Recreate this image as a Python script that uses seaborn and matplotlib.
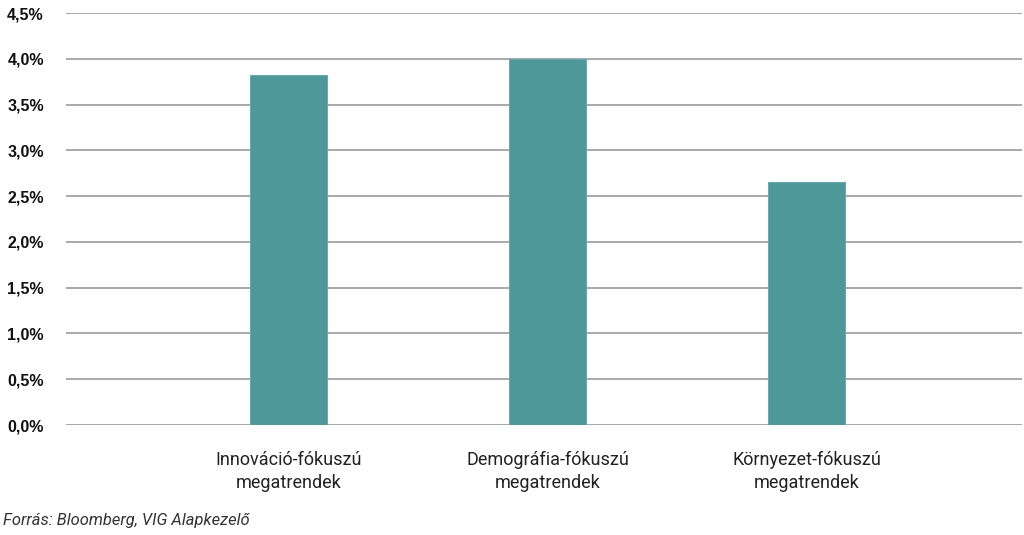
import matplotlib
matplotlib.use("Agg")
import matplotlib.pyplot as plt
import seaborn as sns
import pandas as pd
from matplotlib.ticker import FuncFormatter, MultipleLocator

categories = ["Innováció-fókuszú\nmegatrendek", "Demográfia-fókuszú\nmegatrendek", "Környezet-fókuszú\nmegatrendek"]
values = [3.82, 4.0, 2.65]
source_note = "Forrás: Bloomberg, VIG Alapkezelő"

sns.set_theme(style="white")
plt.rcParams['font.family'] = ['Roboto', 'DejaVu Sans']

df = pd.DataFrame({"cat": categories, "val": values})

fig = plt.figure(figsize=(10.24, 5.35), dpi=100)
ax = fig.add_axes([66/1024, 1-425/535, (1022-66)/1024, (425-13)/535])

ax.yaxis.grid(True, color="#a3a3a3", linewidth=1.3)
ax.set_axisbelow(True)
sns.barplot(data=df, x="cat", y="val", color="#4E9899", width=0.3, saturation=1, ax=ax,
            edgecolor="#6aa9a9", linewidth=0.8, zorder=3)

ax.set_ylim(0, 4.5)
ax.set_xlim(-0.859, 2.832)
ax.yaxis.set_major_locator(MultipleLocator(0.5))
ax.yaxis.set_major_formatter(FuncFormatter(lambda v, p: f"{v:.1f}%".replace(".", ",")))
for s in ax.spines.values():
    s.set_visible(False)
ax.set_xlabel("")
ax.set_ylabel("")
ax.tick_params(axis="y", length=0, pad=16)
ax.tick_params(axis="x", length=0, pad=19)
for lab in ax.get_yticklabels():
    lab.set_fontfamily(["Liberation Sans", "DejaVu Sans"])
    lab.set_fontweight("bold")
    lab.set_fontsize(11.5)
    lab.set_color("#111111")
for lab in ax.get_xticklabels():
    lab.set_fontsize(13)
    lab.set_color("#222222")
    lab.set_linespacing(1.35)

fig.text(0.003, 1-521/535, source_note, fontsize=11.9, style="italic", color="#333333",
         va="center", ha="left")

fig.savefig("out.png", dpi=100)
